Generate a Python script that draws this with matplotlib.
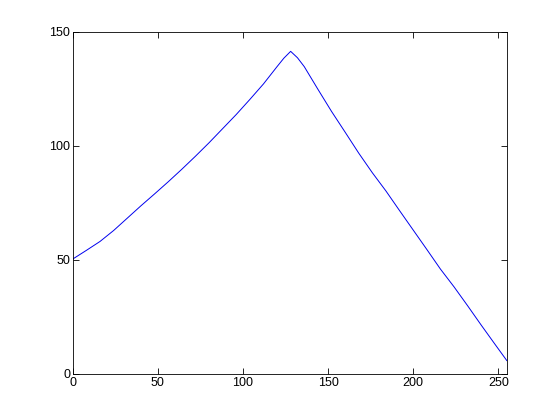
import matplotlib
matplotlib.use('Agg')
import matplotlib.pyplot as plt

# valores
x = [0, 8, 16, 24, 32, 40, 48, 56, 64, 72, 80, 88, 96, 104, 112, 120, 124, 128,
     132, 136, 144, 152, 160, 168, 176, 184, 192, 200, 208, 216, 224, 232, 240, 248, 255]
y = [50.3, 54.1, 58.0, 62.8, 68.2, 73.6, 78.8, 84.1, 89.6, 95.3, 101.2, 107.4, 113.6,
     120.2, 127.0, 134.6, 138.3, 141.3,
     138.5, 134.6, 124.7, 115.0, 105.9, 96.7, 88.1, 80.1, 71.5, 63.0, 54.5, 45.9,
     38.1, 29.8, 21.3, 13.0, 5.8]

xticks = [0, 50, 100, 150, 200, 250]
yticks = [0, 50, 100, 150]

plt.rcParams['font.family'] = ['Liberation Sans', 'DejaVu Sans']

fig = plt.figure(figsize=(5.6, 4.2), dpi=100)
ax = fig.add_axes([0.13, 0.11, 0.775, 0.815])
ax.plot(x, y, color='#0000ee', linewidth=0.7)

ax.set_xlim(0, 255)
ax.set_ylim(0, 150)
ax.set_xticks(xticks)
ax.set_yticks(yticks)
ax.tick_params(direction='in', top=True, right=True, labelsize=9, length=4, width=0.6, pad=2)
for s in ax.spines.values():
    s.set_linewidth(0.6)

fig.savefig('out.png', dpi=100)
